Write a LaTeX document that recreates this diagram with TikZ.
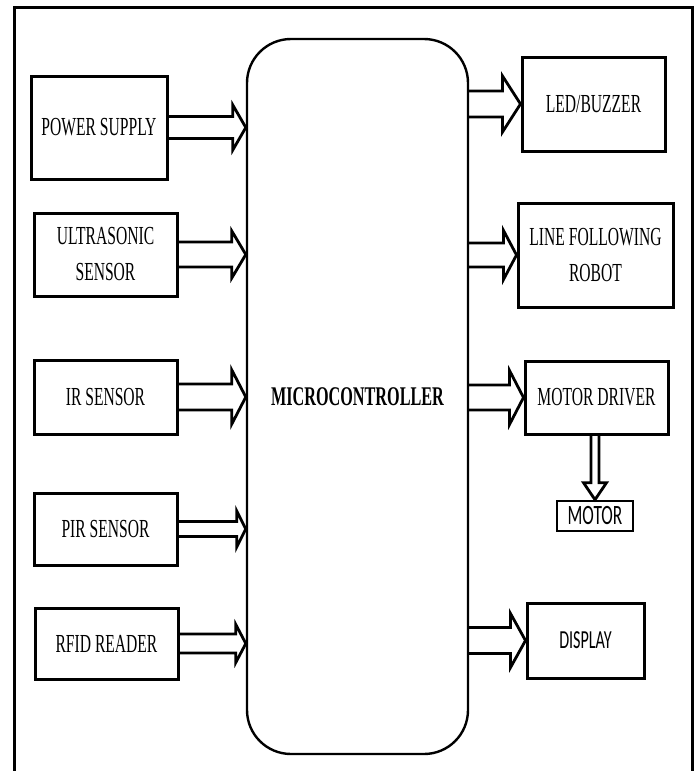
\documentclass[tikz,border=0pt]{standalone}
\usepackage{fontspec}
\setmainfont[FakeStretch=0.6]{Liberation Serif}
\newfontfamily\labelsans[FakeStretch=0.62]{Carlito}
\usetikzlibrary{calc}

\tikzset{
    block/.style={draw, line width=1.5pt, inner sep=0pt, align=center,
        font=\fontsize{13}{18}\selectfont},
    hollow/.style={draw, line width=1.4pt, line join=miter},
}

% open block arrow: from, to, half shaft, half head, head length
\newcommand{\fatarrow}[5]{%
    \draw[hollow] let \p1=(#1), \p2=(#2) in
        (\x1,\y1+#3) -- (\x2-#5,\y1+#3) -- (\x2-#5,\y1+#4) -- (\x2,\y1)
        -- (\x2-#5,\y1-#4) -- (\x2-#5,\y1-#3) -- (\x1,\y1-#3);
}
\newcommand{\fatarrowdown}[5]{%
    \draw[hollow] let \p1=(#1), \p2=(#2) in
        (\x1-#3,\y1) -- (\x1-#3,\y2+#5) -- (\x1-#4,\y2+#5) -- (\x1,\y2)
        -- (\x1+#4,\y2+#5) -- (\x1+#3,\y2+#5) -- (\x1+#3,\y1);
}

\begin{document}
\begin{tikzpicture}[x=0.5pt, y=-0.5pt]

    \useasboundingbox (0,0) rectangle (697,771);
    \fill[white] (0,0) rectangle (697,771);
    \draw[line width=1.5pt] (14,771) -- (14,7) -- (692,7) -- (692,771);

    \node[draw, line width=1.2pt, rounded corners=22pt, minimum width=110.5pt,
        minimum height=357.5pt, font=\fontsize{13.5}{15}\selectfont\bfseries]
        (mcu) at (357.5,396.5) {MICROCONTROLLER};

    % inputs
    \node[block, minimum width=68pt, minimum height=51.5pt] (pwr) at (99,127.5) {POWER SUPPLY};
    \node[block, minimum width=71.5pt, minimum height=41.5pt] (ultra) at (105.5,254.5) {ULTRASONIC\\SENSOR};
    \node[block, minimum width=71.5pt, minimum height=37pt] (ir) at (105.5,397) {IR SENSOR};
    \node[block, minimum width=71.5pt, minimum height=36pt] (pir) at (105.5,529) {PIR SENSOR};
    \node[block, minimum width=71.5pt, minimum height=35.5pt] (rfid) at (106.5,643.5) {RFID READER};

    % outputs
    \node[block, minimum width=71.5pt, minimum height=47pt] (led) at (593.5,104) {LED/BUZZER};
    \node[block, minimum width=77.5pt, minimum height=52pt] (lfr) at (595.5,255) {LINE FOLLOWING\\ROBOT};
    \node[block, minimum width=71.5pt, minimum height=36.5pt] (drv) at (596.5,397.5) {MOTOR DRIVER};
    \node[block, line width=1.3pt, minimum width=38pt, minimum height=15pt,
        font=\labelsans\fontsize{14}{15}\selectfont] (motor) at (595,516) {MOTOR};
    \node[block, minimum width=58.5pt, minimum height=37.5pt,
        font=\labelsans\fontsize{13}{15}\selectfont] (disp) at (585.5,640.5) {DISPLAY};

    \foreach \b/\s/\h/\l in {pwr/5.5/11.25/6.5, ultra/6.25/11.75/7, ir/6.5/13.5/7,
        pir/3.75/9/4.5, rfid/4.75/9.5/5}
        \fatarrow{\b.east}{\b.east -| mcu.west}{\s pt}{\h pt}{\l pt};

    \foreach \b/\s/\h/\l in {led/6.5/14/9, lfr/6/12.25/6.5, drv/6.25/13.5/7,
        disp/6.5/13.5/7.5}
        \fatarrow{\b.west -| mcu.east}{\b.west}{\s pt}{\h pt}{\l pt};

    \fatarrowdown{drv.south -| motor.north}{motor.north}{2pt}{5.75pt}{8.5pt};
\end{tikzpicture}
\end{document}
